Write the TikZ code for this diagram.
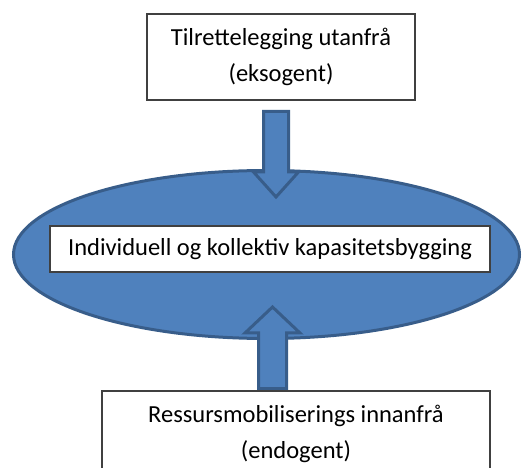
\documentclass[tikz,border=0pt]{standalone}
\usepackage{fontspec}
\setmainfont{Carlito}
\usetikzlibrary{shapes.geometric}
\definecolor{capfill}{HTML}{4F81BD}
\definecolor{capline}{HTML}{385D8A}

\begin{document}
\begin{tikzpicture}[x=1pt,y=-1pt,
    textbox/.style={draw=black!75,line width=1.2pt,fill=white,inner sep=0pt,outer sep=0pt,align=center,font=\fontsize{24.5}{36}\selectfont},
    blob/.style={ellipse,draw=capline,line width=3pt,fill=capfill,inner sep=0pt,outer sep=0pt},
    blockarrow/.style={draw=capline,line width=3pt,fill=capfill,line join=miter}]
\useasboundingbox (0,0) rectangle (523,468);
% the ellipse in the middle
\node[blob,minimum width=506pt,minimum height=168pt] (cap) at (266.5,254.5) {};
% arrows into the ellipse
\coordinate (downtip) at (276,197);
\coordinate (uptip) at (272.5,307);
\draw[blockarrow] (downtip) -- ++(22.5,-25) -- ++(-10,0) -- ++(0,-60.5) -- ++(-25,0)
    -- ++(0,60.5) -- ++(-10,0) -- cycle;
\draw[blockarrow] (uptip) -- ++(27.5,26) -- ++(-13.5,0) -- ++(0,55.5) -- ++(-28,0)
    -- ++(0,-55.5) -- ++(-13.5,0) -- cycle;
% boxes
\node[textbox,minimum width=440pt,minimum height=46pt] (core) at (270,249) {Individuell og kollektiv kapasitetsbygging};
\node[textbox,minimum width=268pt,minimum height=86pt] (exo) at (281,57) {Tilrettelegging utanfrå\\(eksogent)};
\node[textbox,minimum width=388pt,minimum height=86pt] (endo) at (296,434) {Ressursmobiliserings innanfrå\\(endogent)};
\end{tikzpicture}
\end{document}
